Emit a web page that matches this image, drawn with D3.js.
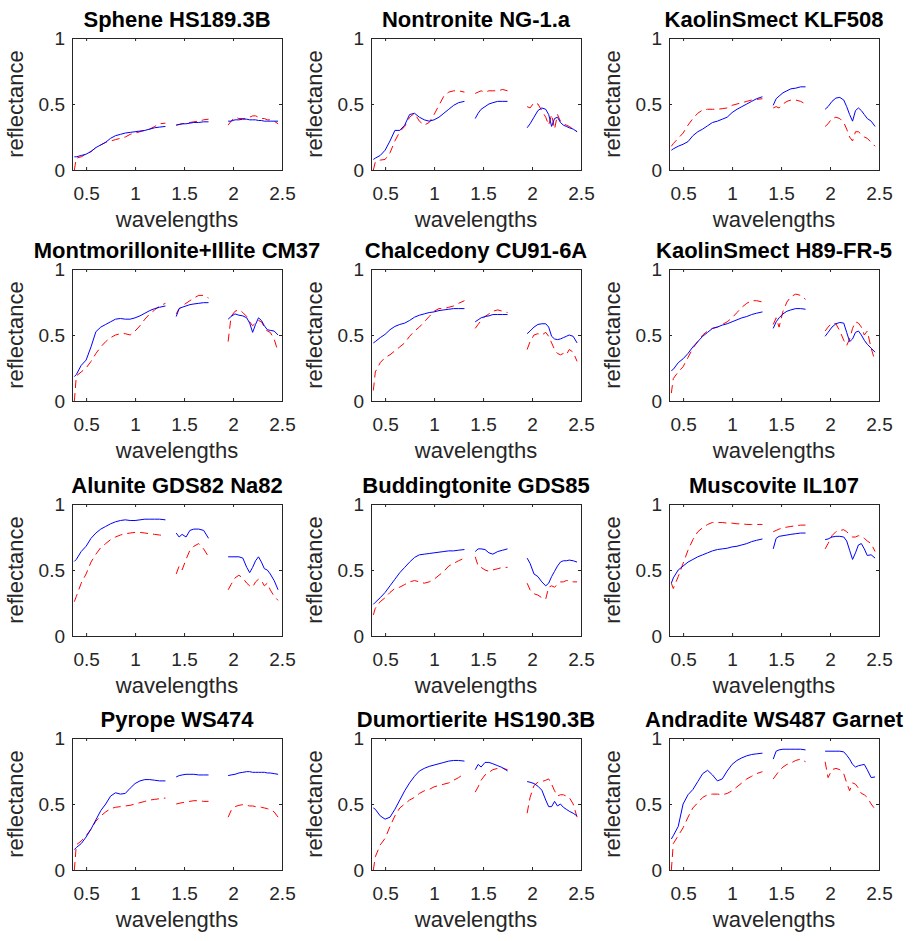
<!DOCTYPE html>
<html>
<head>
<meta charset="utf-8">
<script src="https://cdn.jsdelivr.net/npm/d3@7"></script>
<style>
  body { margin: 0; background: #fff; }
  text { font-family: "Liberation Sans", Arial, sans-serif; }
</style>
</head>
<body>
<script>
// ---- data ----
var titles = ["Sphene HS189.3B", "Nontronite NG-1.a", "KaolinSmect KLF508",
    "Montmorillonite+Illite CM37", "Chalcedony CU91-6A", "KaolinSmect H89-FR-5",
    "Alunite GDS82 Na82", "Buddingtonite GDS85", "Muscovite IL107",
    "Pyrope WS474", "Dumortierite HS190.3B", "Andradite WS487 Garnet"];

// null entries at 1.37 and 1.85 are the water absorption gaps
var wavelengths = [0.38, 0.40, 0.45, 0.50, 0.55, 0.60, 0.65, 0.70, 0.75, 0.80,
    0.85, 0.90, 0.95, 1.00, 1.05, 1.10, 1.15, 1.20, 1.25, 1.31,
    1.37,
    1.42, 1.45, 1.48, 1.52, 1.56, 1.60, 1.65, 1.70, 1.75,
    1.85,
    1.95, 1.98, 2.02, 2.06, 2.10, 2.14, 2.17, 2.20, 2.23, 2.26, 2.29, 2.32, 2.35, 2.38, 2.42, 2.46];

var x_ticks = [0.5, 1, 1.5, 2, 2.5];
var y_ticks = [0, 0.5, 1];

var sphene_blue = [0.10, 0.10, 0.11, 0.12, 0.14, 0.17, 0.19, 0.21, 0.24, 0.26, 0.27, 0.28, 0.285, 0.29, 0.295, 0.30, 0.31, 0.32, 0.325, 0.33,
    null, 0.34, 0.345, 0.35, 0.35, 0.355, 0.36, 0.36, 0.365, 0.365,
    null, 0.37, 0.37, 0.38, 0.38, 0.385, 0.385, 0.38, 0.38, 0.38, 0.375, 0.375, 0.37, 0.37, 0.37, 0.37, 0.37];
var sphene_red = [0.0, 0.09, 0.10, 0.12, 0.14, 0.17, 0.19, 0.21, 0.22, 0.23, 0.24, 0.25, 0.27, 0.28, 0.29, 0.30, 0.31, 0.33, 0.35, 0.355,
    null, 0.34, 0.345, 0.35, 0.355, 0.36, 0.365, 0.37, 0.38, 0.385,
    null, 0.34, 0.37, 0.40, 0.39, 0.39, 0.39, 0.40, 0.41, 0.41, 0.40, 0.39, 0.39, 0.38, 0.38, 0.37, 0.35];

var nontronite_blue = [0.08, 0.09, 0.11, 0.15, 0.22, 0.30, 0.30, 0.34, 0.42, 0.43, 0.40, 0.38, 0.37, 0.38, 0.40, 0.43, 0.46, 0.49, 0.51, 0.52,
    null, 0.39, 0.43, 0.46, 0.48, 0.50, 0.51, 0.52, 0.52, 0.52,
    null, 0.32, 0.35, 0.40, 0.45, 0.47, 0.46, 0.42, 0.33, 0.39, 0.40, 0.36, 0.34, 0.33, 0.32, 0.31, 0.29];
var nontronite_red = [0.0, 0.06, 0.075, 0.08, 0.13, 0.22, 0.29, 0.33, 0.40, 0.43, 0.37, 0.34, 0.36, 0.42, 0.49, 0.56, 0.59, 0.60, 0.60, 0.59,
    null, 0.58, 0.59, 0.60, 0.59, 0.60, 0.60, 0.60, 0.61, 0.60,
    null, 0.48, 0.47, 0.51, 0.50, 0.45, 0.40, 0.34, 0.42, 0.31, 0.42, 0.37, 0.35, 0.34, 0.33, 0.31, 0.29];

var klf508_blue = [0.15, 0.16, 0.18, 0.195, 0.215, 0.26, 0.29, 0.31, 0.335, 0.36, 0.37, 0.385, 0.40, 0.435, 0.46, 0.48, 0.50, 0.52, 0.54, 0.555,
    null, 0.49, 0.54, 0.56, 0.585, 0.60, 0.615, 0.62, 0.63, 0.63,
    null, 0.46, 0.48, 0.52, 0.545, 0.55, 0.53, 0.48, 0.42, 0.37, 0.45, 0.47, 0.45, 0.42, 0.39, 0.37, 0.33];
var klf508_red = [0.18, 0.20, 0.24, 0.28, 0.34, 0.39, 0.43, 0.455, 0.46, 0.46, 0.46, 0.465, 0.47, 0.49, 0.50, 0.51, 0.52, 0.53, 0.535, 0.54,
    null, 0.47, 0.48, 0.47, 0.50, 0.52, 0.53, 0.53, 0.52, 0.50,
    null, 0.33, 0.35, 0.39, 0.40, 0.39, 0.36, 0.31, 0.25, 0.22, 0.29, 0.29, 0.27, 0.25, 0.24, 0.21, 0.18];

var cm37_blue = [0.185, 0.20, 0.27, 0.31, 0.41, 0.525, 0.56, 0.58, 0.60, 0.62, 0.625, 0.62, 0.62, 0.63, 0.645, 0.665, 0.685, 0.70, 0.71, 0.72,
    null, 0.64, 0.70, 0.71, 0.72, 0.73, 0.735, 0.74, 0.745, 0.745,
    null, 0.62, 0.64, 0.66, 0.65, 0.645, 0.63, 0.59, 0.52, 0.58, 0.63, 0.61, 0.57, 0.54, 0.535, 0.53, 0.50];
var cm37_red = [0.0, 0.19, 0.22, 0.25, 0.30, 0.36, 0.41, 0.45, 0.48, 0.50, 0.51, 0.51, 0.50, 0.53, 0.57, 0.62, 0.66, 0.69, 0.72, 0.74,
    null, 0.66, 0.70, 0.72, 0.74, 0.76, 0.78, 0.80, 0.80, 0.78,
    null, 0.45, 0.64, 0.68, 0.69, 0.67, 0.64, 0.60, 0.57, 0.59, 0.61, 0.60, 0.56, 0.53, 0.52, 0.47, 0.37];

var chalcedony_blue = [0.44, 0.45, 0.48, 0.505, 0.54, 0.565, 0.58, 0.59, 0.61, 0.635, 0.65, 0.66, 0.67, 0.675, 0.685, 0.69, 0.695, 0.70, 0.70, 0.70,
    null, 0.60, 0.615, 0.63, 0.64, 0.645, 0.655, 0.655, 0.655, 0.655,
    null, 0.51, 0.53, 0.56, 0.58, 0.585, 0.585, 0.56, 0.49, 0.47, 0.465, 0.47, 0.48, 0.49, 0.50, 0.49, 0.44];
var chalcedony_red = [0.08, 0.22, 0.29, 0.33, 0.35, 0.38, 0.41, 0.44, 0.49, 0.53, 0.56, 0.60, 0.64, 0.68, 0.70, 0.70, 0.71, 0.72, 0.74, 0.76,
    null, 0.55, 0.58, 0.61, 0.64, 0.66, 0.68, 0.69, 0.68, 0.67,
    null, 0.39, 0.45, 0.50, 0.51, 0.50, 0.52, 0.49, 0.44, 0.39, 0.36, 0.35, 0.36, 0.35, 0.39, 0.37, 0.30];

var h89_blue = [0.23, 0.24, 0.29, 0.32, 0.36, 0.41, 0.45, 0.49, 0.52, 0.55, 0.56, 0.575, 0.585, 0.60, 0.615, 0.63, 0.64, 0.655, 0.665, 0.675,
    null, 0.55, 0.60, 0.63, 0.66, 0.68, 0.69, 0.70, 0.70, 0.695,
    null, 0.49, 0.52, 0.56, 0.585, 0.595, 0.59, 0.52, 0.45, 0.47, 0.52, 0.53, 0.50, 0.46, 0.43, 0.40, 0.37];
var h89_red = [0.06, 0.17, 0.22, 0.26, 0.33, 0.40, 0.45, 0.50, 0.53, 0.55, 0.56, 0.58, 0.60, 0.63, 0.67, 0.71, 0.74, 0.76, 0.76, 0.75,
    null, 0.58, 0.63, 0.56, 0.68, 0.75, 0.79, 0.81, 0.80, 0.77,
    null, 0.53, 0.56, 0.59, 0.585, 0.53, 0.46, 0.42, 0.47, 0.55, 0.60, 0.59, 0.56, 0.50, 0.53, 0.40, 0.30];

var alunite_blue = [0.565, 0.58, 0.64, 0.68, 0.74, 0.78, 0.81, 0.83, 0.85, 0.865, 0.875, 0.88, 0.875, 0.875, 0.88, 0.885, 0.885, 0.885, 0.885, 0.88,
    null, 0.78, 0.75, 0.77, 0.75, 0.80, 0.81, 0.81, 0.80, 0.74,
    null, 0.60, 0.60, 0.60, 0.60, 0.59, 0.52, 0.48, 0.52, 0.57, 0.60, 0.56, 0.51, 0.50, 0.47, 0.42, 0.35];
var alunite_red = [0.26, 0.30, 0.40, 0.47, 0.56, 0.62, 0.67, 0.70, 0.73, 0.75, 0.765, 0.775, 0.78, 0.785, 0.785, 0.78, 0.775, 0.77, 0.765, 0.76,
    null, 0.47, 0.53, 0.50, 0.58, 0.65, 0.68, 0.70, 0.66, 0.60,
    null, 0.35, 0.39, 0.44, 0.46, 0.44, 0.40, 0.38, 0.37, 0.41, 0.43, 0.42, 0.38, 0.40, 0.35, 0.30, 0.27];

var budd_blue = [0.24, 0.255, 0.29, 0.33, 0.38, 0.43, 0.48, 0.52, 0.56, 0.595, 0.615, 0.62, 0.625, 0.63, 0.635, 0.64, 0.645, 0.645, 0.65, 0.655,
    null, 0.64, 0.66, 0.66, 0.655, 0.63, 0.62, 0.64, 0.65, 0.66,
    null, 0.59, 0.55, 0.47, 0.45, 0.41, 0.38, 0.40, 0.45, 0.49, 0.53, 0.56, 0.57, 0.57, 0.575, 0.57, 0.56];
var budd_red = [0.16, 0.21, 0.26, 0.29, 0.33, 0.36, 0.37, 0.39, 0.41, 0.42, 0.41, 0.40, 0.41, 0.43, 0.46, 0.49, 0.53, 0.55, 0.57, 0.59,
    null, 0.60, 0.53, 0.52, 0.50, 0.49, 0.50, 0.51, 0.52, 0.52,
    null, 0.40, 0.35, 0.32, 0.31, 0.29, 0.28, 0.37, 0.38, 0.37, 0.39, 0.41, 0.41, 0.42, 0.42, 0.41, 0.41];

var muscovite_blue = [0.40, 0.44, 0.50, 0.53, 0.56, 0.58, 0.60, 0.615, 0.63, 0.645, 0.655, 0.66, 0.665, 0.675, 0.68, 0.69, 0.70, 0.715, 0.725, 0.735,
    null, 0.66, 0.74, 0.755, 0.76, 0.765, 0.77, 0.775, 0.78, 0.78,
    null, 0.73, 0.735, 0.75, 0.755, 0.755, 0.75, 0.72, 0.65, 0.58, 0.63, 0.69, 0.70, 0.66, 0.61, 0.615, 0.59];
var muscovite_red = [0.40, 0.36, 0.45, 0.55, 0.65, 0.73, 0.79, 0.82, 0.845, 0.86, 0.86, 0.86, 0.855, 0.855, 0.85, 0.85, 0.845, 0.845, 0.845, 0.845,
    null, 0.79, 0.80, 0.81, 0.82, 0.825, 0.83, 0.835, 0.84, 0.84,
    null, 0.66, 0.70, 0.76, 0.79, 0.80, 0.805, 0.79, 0.77, 0.75, 0.75, 0.76, 0.755, 0.74, 0.72, 0.70, 0.64];

var pyrope_blue = [0.155, 0.17, 0.20, 0.25, 0.31, 0.38, 0.45, 0.50, 0.56, 0.585, 0.575, 0.58, 0.62, 0.655, 0.675, 0.685, 0.685, 0.68, 0.675, 0.675,
    null, 0.705, 0.715, 0.72, 0.725, 0.725, 0.725, 0.72, 0.72, 0.72,
    null, 0.715, 0.72, 0.725, 0.735, 0.74, 0.745, 0.745, 0.74, 0.74, 0.74, 0.74, 0.74, 0.735, 0.735, 0.73, 0.725];
var pyrope_red = [0.0, 0.19, 0.22, 0.26, 0.31, 0.37, 0.41, 0.44, 0.465, 0.475, 0.48, 0.485, 0.49, 0.50, 0.51, 0.52, 0.53, 0.535, 0.54, 0.545,
    null, 0.50, 0.505, 0.51, 0.515, 0.52, 0.525, 0.525, 0.52, 0.52,
    null, 0.40, 0.45, 0.48, 0.49, 0.495, 0.49, 0.485, 0.485, 0.48, 0.48, 0.475, 0.47, 0.465, 0.455, 0.44, 0.40];

var dumortierite_blue = [0.47, 0.46, 0.41, 0.385, 0.40, 0.46, 0.53, 0.60, 0.66, 0.71, 0.75, 0.77, 0.785, 0.795, 0.805, 0.815, 0.825, 0.83, 0.83, 0.825,
    null, 0.76, 0.80, 0.78, 0.815, 0.815, 0.805, 0.79, 0.775, 0.75,
    null, 0.67, 0.665, 0.655, 0.635, 0.605, 0.53, 0.48, 0.48, 0.52, 0.485, 0.50, 0.475, 0.46, 0.445, 0.43, 0.41];
var dumortierite_red = [0.0, 0.10, 0.19, 0.24, 0.33, 0.41, 0.47, 0.50, 0.53, 0.55, 0.58, 0.60, 0.61, 0.63, 0.64, 0.65, 0.66, 0.68, 0.70, 0.73,
    null, 0.59, 0.63, 0.68, 0.72, 0.74, 0.76, 0.77, 0.77, 0.76,
    null, 0.43, 0.55, 0.64, 0.665, 0.67, 0.68, 0.69, 0.65, 0.60, 0.56, 0.57, 0.57, 0.56, 0.55, 0.50, 0.40];

var andradite_blue = [0.235, 0.26, 0.33, 0.50, 0.57, 0.61, 0.67, 0.73, 0.755, 0.72, 0.675, 0.69, 0.75, 0.80, 0.83, 0.85, 0.865, 0.875, 0.88, 0.885,
    null, 0.84, 0.90, 0.91, 0.915, 0.915, 0.915, 0.915, 0.915, 0.91,
    null, 0.90, 0.90, 0.90, 0.90, 0.90, 0.895, 0.87, 0.84, 0.80, 0.78, 0.79, 0.795, 0.80, 0.76, 0.70, 0.705];
var andradite_red = [0.0, 0.20, 0.26, 0.32, 0.40, 0.47, 0.51, 0.55, 0.57, 0.575, 0.575, 0.57, 0.58, 0.60, 0.63, 0.66, 0.69, 0.71, 0.73, 0.745,
    null, 0.69, 0.72, 0.75, 0.78, 0.80, 0.81, 0.83, 0.84, 0.82,
    null, 0.82, 0.70, 0.76, 0.77, 0.76, 0.73, 0.66, 0.60, 0.66, 0.65, 0.62, 0.58, 0.57, 0.55, 0.50, 0.46];

var blue_series = [sphene_blue, nontronite_blue, klf508_blue, cm37_blue, chalcedony_blue, h89_blue,
    alunite_blue, budd_blue, muscovite_blue, pyrope_blue, dumortierite_blue, andradite_blue];
var red_series = [sphene_red, nontronite_red, klf508_red, cm37_red, chalcedony_red, h89_red,
    alunite_red, budd_red, muscovite_red, pyrope_red, dumortierite_red, andradite_red];

// ---- layout ----
var width = 913, height = 941;
var col_left = [72, 371, 669];
var row_top = [38, 269, 504, 738];
var plot_w = 210, plot_h = 132;
var x_domain = [0.356, 2.5];
var tick_len = 3;
var axis_color = '#262626';

var svg = d3.select('body').append('svg')
    .attr('width', width)
    .attr('height', height);

function draw_panel(i) {
    var col = i % 3, row = Math.floor(i / 3);
    var g = svg.append('g')
        .attr('transform', `translate(${col_left[col]}, ${row_top[row]})`);

    var x = d3.scaleLinear().domain(x_domain).range([0, plot_w]);
    var y = d3.scaleLinear().domain([0, 1]).range([plot_h, 0]);

    var pts = function(vals) {
        return wavelengths.map(function(w, k) { return { w: w, v: vals[k] }; });
    };
    var line = d3.line()
        .defined(function(d) { return d.v !== null; })
        .x(function(d) { return x(d.w); })
        .y(function(d) { return y(d.v); });

    g.append('path')
        .datum(pts(red_series[i]))
        .attr('d', line)
        .attr('fill', 'none')
        .attr('stroke', '#ff0000')
        .attr('stroke-width', 1)
        .attr('stroke-dasharray', '8,5');

    g.append('path')
        .datum(pts(blue_series[i]))
        .attr('d', line)
        .attr('fill', 'none')
        .attr('stroke', '#0000ff')
        .attr('stroke-width', 1);

    // axes, ticks pointing inward, mirrored on top and right
    g.append('g')
        .attr('transform', `translate(0, ${plot_h})`)
        .call(d3.axisBottom(x).tickValues(x_ticks).tickSizeInner(-tick_len).tickSizeOuter(0)
            .tickPadding(17).tickFormat(d3.format('')));
    g.append('g')
        .call(d3.axisLeft(y).tickValues(y_ticks).tickSizeInner(-tick_len).tickSizeOuter(0)
            .tickPadding(7).tickFormat(d3.format('')));
    g.append('g')
        .call(d3.axisTop(x).tickValues(x_ticks).tickSizeInner(-tick_len).tickSizeOuter(0).tickFormat(''));
    g.append('g')
        .attr('transform', `translate(${plot_w}, 0)`)
        .call(d3.axisRight(y).tickValues(y_ticks).tickSizeInner(-tick_len).tickSizeOuter(0).tickFormat(''));

    g.selectAll('.domain').remove();
    g.selectAll('.tick line').attr('stroke', axis_color);
    g.selectAll('.tick text')
        .attr('fill', axis_color)
        .style('font-size', '19px')
        .style('font-family', '"Liberation Sans", Arial, sans-serif');

    g.append('rect')
        .attr('x', 0.5)
        .attr('y', 0.5)
        .attr('width', plot_w)
        .attr('height', plot_h)
        .attr('fill', 'none')
        .attr('stroke', axis_color)
        .attr('stroke-width', 1);

    g.append('text')
        .attr('x', plot_w / 2)
        .attr('y', -11)
        .attr('text-anchor', 'middle')
        .style('font-size', '22px')
        .style('font-weight', 'bold')
        .attr('fill', '#000')
        .text(titles[i]);

    g.append('text')
        .attr('x', plot_w / 2)
        .attr('y', plot_h + 57)
        .attr('text-anchor', 'middle')
        .style('font-size', '22px')
        .attr('fill', axis_color)
        .text('wavelengths');

    g.append('text')
        .attr('transform', `translate(-49, ${plot_h / 2}) rotate(-90)`)
        .attr('text-anchor', 'middle')
        .style('font-size', '22px')
        .attr('fill', axis_color)
        .text('reflectance');
}

for (var i = 0; i < titles.length; i++) {
    draw_panel(i);
}
</script>
</body>
</html>
